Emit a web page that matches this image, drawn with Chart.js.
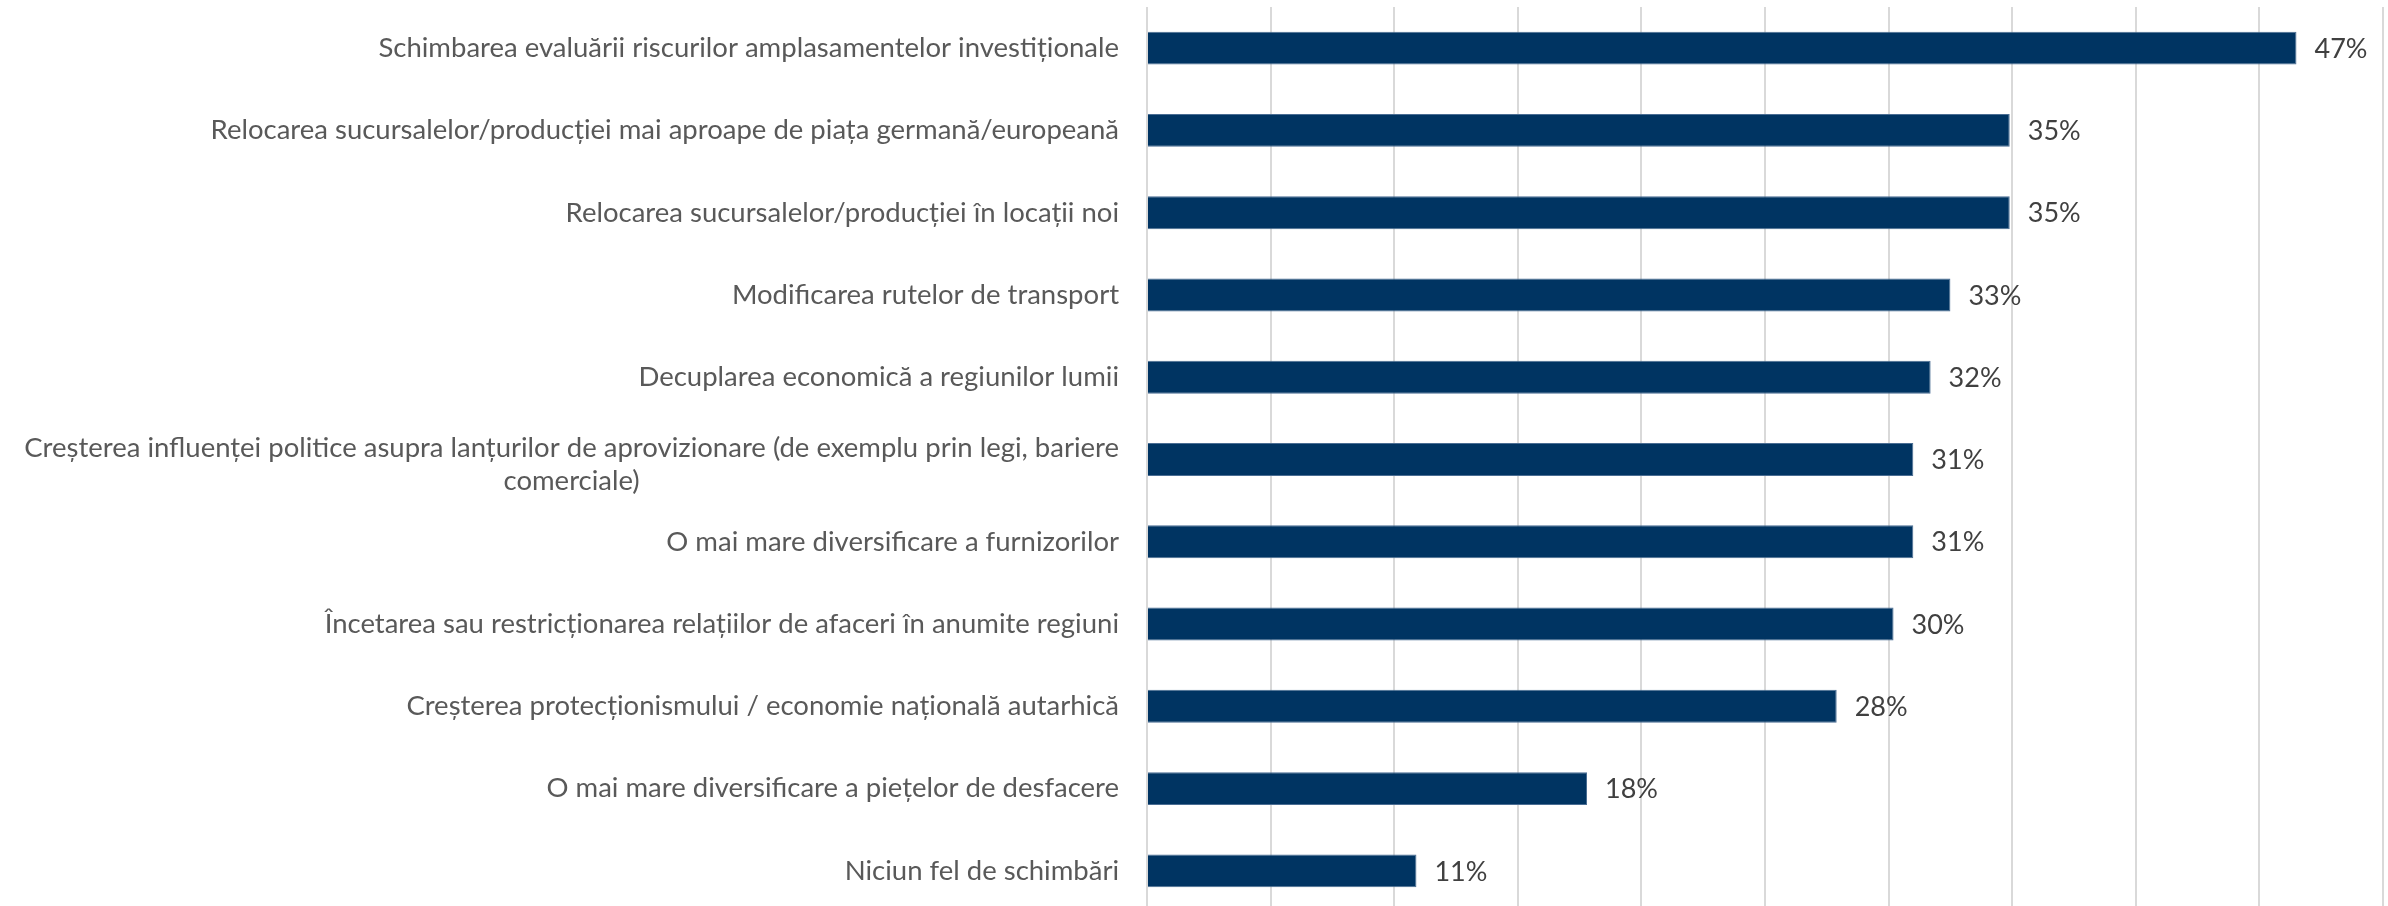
<!DOCTYPE html>
<html>
<head>
<meta charset="utf-8">
<script src="https://cdn.jsdelivr.net/npm/chart.js@4/dist/chart.umd.min.js"></script>
<style>
  html, body { margin: 0; padding: 0; background: #fff; overflow: hidden; }
  canvas { display: block; }
</style>
</head>
<body>
<canvas id="chart" width="2388" height="912"></canvas>
<script>
// Categorii (de sus în jos)
const categories = [
    'Schimbarea evaluării riscurilor amplasamentelor investiționale',
    'Relocarea sucursalelor/producției mai aproape de piața germană/europeană',
    'Relocarea sucursalelor/producției în locații noi',
    'Modificarea rutelor de transport',
    'Decuplarea economică a regiunilor lumii',
    ['Creșterea influenței politice asupra lanțurilor de aprovizionare (de exemplu prin legi, bariere', 'comerciale)'],
    'O mai mare diversificare a furnizorilor',
    'Încetarea sau restricționarea relațiilor de afaceri în anumite regiuni',
    'Creșterea protecționismului / economie națională autarhică',
    'O mai mare diversificare a piețelor de desfacere',
    'Niciun fel de schimbări'
];

// Valori (%)
const values = [46.5, 34.9, 34.9, 32.5, 31.7, 31.0, 31.0, 30.2, 27.9, 17.8, 10.9];

// Etichete afișate lângă bare
const valueLabels = ['47%', '35%', '35%', '33%', '32%', '31%', '31%', '30%', '28%', '18%', '11%'];

// Axa X (fără etichete vizibile)
const axisMin = 0;
const axisMax = 50;
const axisStep = 5;

// Etichetele categoriilor, desenate ca în Excel (rândurile multiple centrate)
const categoryLabelPlugin = {
    id: 'categoryLabels',
    afterDraw(chart) {
        const ctx = chart.ctx;
        const yScale = chart.scales.y;
        const right = chart.chartArea.left - 28;
        ctx.save();
        ctx.font = '27.5px Lato';
        ctx.fillStyle = '#595959';
        ctx.textBaseline = 'middle';
        categories.forEach((label, i) => {
            const y = yScale.getPixelForValue(i);
            if (Array.isArray(label)) {
                const widest = Math.max(...label.map(l => ctx.measureText(l).width));
                ctx.textAlign = 'center';
                const lineH = 33;
                label.forEach((line, j) => {
                    ctx.fillText(line, right - widest / 2, y - 11 + j * lineH);
                });
            } else {
                ctx.textAlign = 'right';
                ctx.fillText(label, right, y);
            }
        });
        ctx.restore();
    }
};

// Plugin pentru etichetele de valoare
const barValuePlugin = {
    id: 'barValues',
    afterDatasetsDraw(chart) {
        const ctx = chart.ctx;
        const meta = chart.getDatasetMeta(0);
        ctx.save();
        ctx.font = '27px Lato';
        ctx.fillStyle = '#404040';
        ctx.textAlign = 'left';
        ctx.textBaseline = 'middle';
        meta.data.forEach((bar, i) => {
            ctx.fillText(valueLabels[i], bar.x + 18, bar.y + 1);
        });
        ctx.restore();
    }
};

const ctx = document.getElementById('chart').getContext('2d');
new Chart(ctx, {
    type: 'bar',
    data: {
        labels: categories,
        datasets: [{
            data: values,
            backgroundColor: '#003462',
            borderColor: '#4a6d93',
            borderWidth: 1,
            barPercentage: 0.4,
            categoryPercentage: 1
        }]
    },
    options: {
        indexAxis: 'y',
        responsive: false,
        animation: false,
        layout: {
            padding: { top: 7, right: 5, bottom: 0, left: 0 }
        },
        plugins: {
            legend: { display: false },
            tooltip: { enabled: false }
        },
        scales: {
            x: {
                min: axisMin,
                max: axisMax,
                ticks: { display: false, stepSize: axisStep },
                grid: { color: '#d9d9d9', lineWidth: 2, drawTicks: false },
                border: { display: false }
            },
            y: {
                grid: { display: false, drawTicks: false },
                border: { display: false },
                ticks: { display: false },
                afterFit(scale) {
                    scale.width = 1147;
                    scale.paddingTop = 0;
                    scale.paddingBottom = 0;
                }
            }
        }
    },
    plugins: [barValuePlugin, categoryLabelPlugin]
});
</script>
</body>
</html>
